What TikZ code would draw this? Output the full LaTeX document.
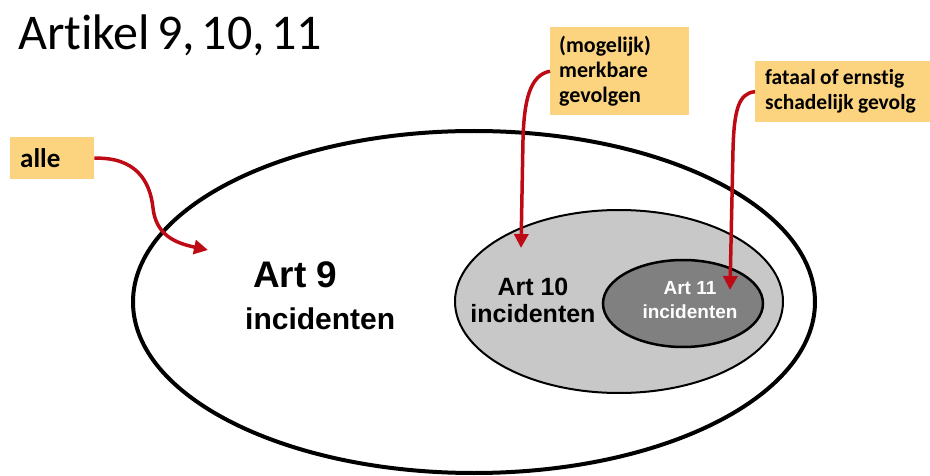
\documentclass[tikz,border=0pt]{standalone}
\usepackage{fontspec}
\setmainfont{Carlito}[Ligatures=NoCommon,WordSpace=0.6,BoldFeatures={WordSpace=0.9}]
\newfontfamily\arialfont{Liberation Sans}
\usetikzlibrary{shapes.geometric,arrows.meta}
\definecolor{boxfill}{RGB}{252,212,128}
\definecolor{arrowred}{RGB}{190,10,20}
\definecolor{lightzone}{RGB}{200,200,200}
\definecolor{darkzone}{RGB}{128,128,128}
\tikzset{box/.style={fill=boxfill,anchor=north west,align=flush left,inner ysep=0pt}}
\tikzset{zone/.style={ellipse,draw=black,inner sep=0pt}}
\tikzset{redarrow/.style={draw=arrowred,line width=3.5pt,-{Triangle[length=14pt,width=14pt]}}}

\begin{document}
\begin{tikzpicture}
                [x=1pt,y=-1pt,every node/.style={inner sep=0pt}]
                \useasboundingbox (0,0) rectangle (930,476);
                \node [anchor=base west,font=\fontsize{50}{60}\selectfont] (title) at (18,50) {Artikel 9, 10, 11};
                
                \node [zone,fill=white,line width=4pt,minimum width=682pt,minimum height=342pt] (z9) at (474,302) {};
                \node [zone,fill=lightzone,line width=2pt,minimum width=328pt,minimum height=183pt] (z10) at (619,301.5) {};
                \node [zone,fill=darkzone,line width=2.5pt,minimum width=160pt,minimum height=87pt] (z11) at (683,303.5) {};
                
                \node [anchor=west,align=flush left,font=\arialfont\bfseries\fontsize{30}{42}\selectfont] (t9) at (245,296) {\hspace*{8pt}{\fontsize{37}{42}\selectfont Art 9}\\incidenten};
                \node [align=center,font=\arialfont\bfseries\fontsize{25}{27}\selectfont] (t10) at (533,300) {Art 10\\incidenten};
                \node [align=center,text=white,font=\arialfont\bfseries\fontsize{19}{24}\selectfont] (t11) at (690,300) {Art 11\\incidenten};
                
                \node [box,inner xsep=10pt,text width=64pt,minimum height=42pt,font=\bfseries\fontsize{27}{30}\selectfont] (alle) at (10,137) {alle};
                \node [box,inner xsep=9pt,text width=121pt,minimum height=88pt,font=\bfseries\fontsize{22}{25}\selectfont] (mogelijk) at (550,27) {(mogelijk)\\merkbare\\gevolgen};
                \node [box,inner xsep=10pt,text width=165pt,minimum height=61pt,font=\bfseries\fontsize{21.5}{25}\selectfont] (fataal) at (755,61) {fataal of ernstig\\schadelijk gevolg};
                
                \coordinate (c9) at (208,250);
                \coordinate (c10) at (521,248);
                \coordinate (c11) at (730,290);
                
                \draw [redarrow] (alle.east) .. controls (135,157) and (150,180) .. (153,208) .. controls (156,235) and (175,243) .. (c9);
                \draw [redarrow] (mogelijk.west) .. controls (530,75) and (524,100) .. (523,140) -- (c10);
                \draw [redarrow] (fataal.west) .. controls (738,93) and (734,112) .. (733,150) -- (c11);
            \end{tikzpicture}
\end{document}
